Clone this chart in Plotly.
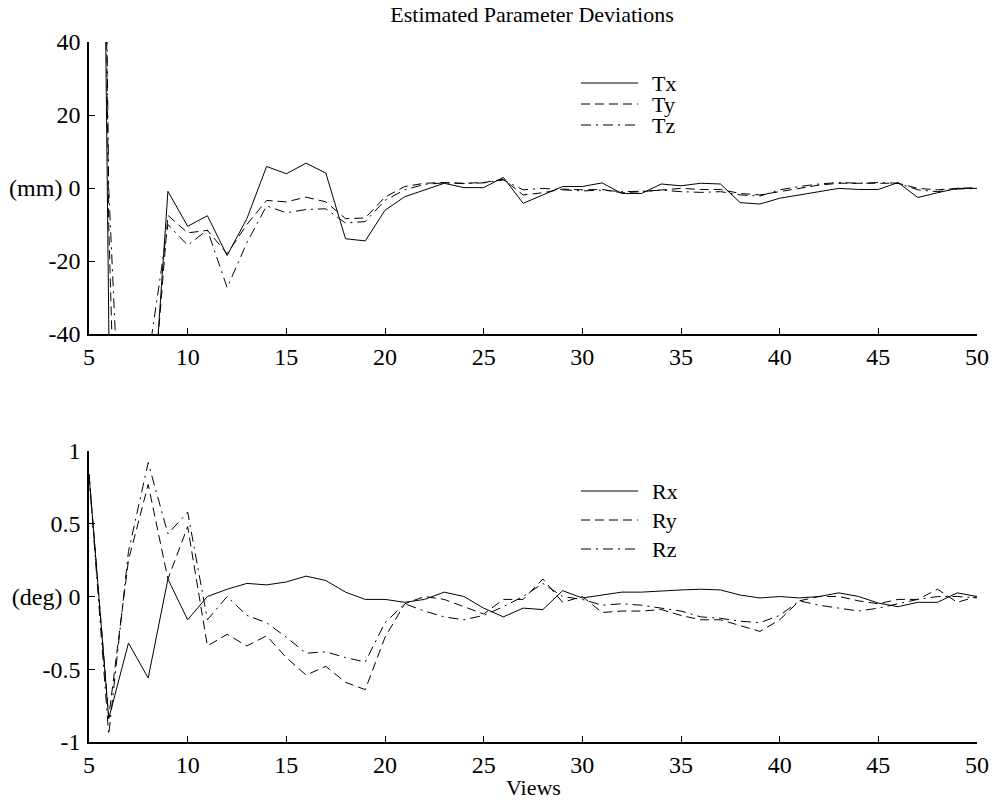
import plotly.graph_objects as go

views = list(range(5, 51))

Tx = [465, -36, -500, -80, -0.9, -10.5, -7.6, -18.5, -8.4, 5.9, 3.9, 6.8, 4.1, -13.9, -14.5, -6.1,
      -2.4, -0.5, 1.3, 0.1, 0.1, 2.9, -4.2, -1.9, 0.4, 0.4, 1.4, -1.5, -1.5, 1.1, 0.6,
      1.3, 1.1, -4.0, -4.4, -2.8, -1.9, -1.0, -0.1, -0.4, -0.4, 1.5, -2.6, -1.3, -0.1, -0.1]
Ty = [470, -10, -200, -75, -7.5, -12.3, -11.6, -18, -10, -3.4, -3.8, -2.5, -3.8, -8.4, -8.2, -2.5,
      0.4, 1.3, 1.5, 1.3, 1.5, 2.4, -1.9, -1.3, -0.3, -0.5, -0.4, -1.3, -1.0, -0.5, -0.1,
      -0.4, -0.4, -1.5, -1.9, -1.0, -0.1, 0.8, 1.3, 1.3, 1.1, 1.3, -0.1, -0.5, -0.1, 0.1]
Tz = [470, 0, -120, -47, -10, -15.7, -11.5, -27.3, -15, -4.9, -6.8, -5.9, -5.7, -9.6, -9.2, -3.4,
      -0.5, 1.0, 1.4, 1.2, 1.4, 2.2, -0.5, -0.1, -0.5, -0.8, -0.6, -1.0, -0.9, -0.6, -1.0,
      -1.2, -1.0, -1.9, -2.2, -0.5, 0.4, 1.1, 1.5, 1.3, 1.5, 1.3, -0.5, -1.0, -0.3, -0.1]

Rx = [0.84, -0.84, -0.32, -0.56, 0.12, -0.16, 0.0, 0.05, 0.09, 0.08, 0.10, 0.14, 0.11, 0.03, -0.02, -0.02,
      -0.04, -0.02, 0.03, 0.0, -0.08, -0.14, -0.08, -0.09, 0.04, -0.01, 0.01, 0.03, 0.03, 0.04, 0.045,
      0.05, 0.045, 0.01, -0.01, 0.0, -0.01, 0.0, 0.025, 0.0, -0.045, -0.07, -0.04, -0.04, 0.025, 0.0]
Ry = [0.84, -0.83, 0.25, 0.77, 0.12, 0.48, -0.34, -0.26, -0.34, -0.27, -0.42, -0.54, -0.48, -0.59, -0.64, -0.28,
      -0.05, 0.0, -0.02, -0.07, -0.12, -0.02, -0.02, 0.12, -0.04, 0.0, -0.11, -0.10, -0.10, -0.09, -0.13,
      -0.16, -0.16, -0.20, -0.24, -0.16, -0.03, 0.0, 0.0, -0.03, -0.05, -0.02, -0.02, 0.05, -0.04, 0.0]
Rz = [0.84, -0.95, 0.31, 0.92, 0.43, 0.58, -0.16, 0.0, -0.13, -0.18, -0.28, -0.39, -0.38, -0.42, -0.45, -0.18,
      -0.05, -0.10, -0.14, -0.16, -0.13, -0.07, 0.0, 0.09, 0.0, -0.02, -0.06, -0.05, -0.06, -0.08, -0.10,
      -0.14, -0.15, -0.17, -0.18, -0.13, -0.03, -0.06, -0.08, -0.10, -0.08, -0.05, -0.02, 0.0, 0.0, -0.01]

top_names = ["Tx", "Ty", "Tz"]
bot_names = ["Rx", "Ry", "Rz"]
x_ticks = [5, 10, 15, 20, 25, 30, 35, 40, 45, 50]
top_ticks = [-40, -20, 0, 20, 40]
top_ticktext = ["-40", "-20", "(mm) 0", "20", "40"]
bot_ticks = [-1, -0.5, 0, 0.5, 1]
bot_ticktext = ["-1", "-0.5", "(deg) 0", "0.5", "1"]

W, H = 992, 800
FONT = "Liberation Serif"
FS = 24
dashes = ["solid", "9px,5px", "10px,5px,2px,5px"]

def px_x(p):
    return p / W

def px_y(p):
    return 1 - p / H

fig = go.Figure()
for name, ys, d in zip(top_names, [Tx, Ty, Tz], dashes):
    fig.add_trace(go.Scatter(x=views, y=ys, mode="lines", name=name,
                             line=dict(color="black", width=1, dash=d),
                             xaxis="x", yaxis="y", showlegend=False))
for name, ys, d in zip(bot_names, [Rx, Ry, Rz], dashes):
    fig.add_trace(go.Scatter(x=views, y=ys, mode="lines", name=name,
                             line=dict(color="black", width=1, dash=d),
                             xaxis="x2", yaxis="y2", showlegend=False))

x0, x1 = px_x(89), px_x(977)
axis_common = dict(showgrid=False, zeroline=False, showline=True, linecolor="black", linewidth=1.5,
                   ticks="inside", ticklen=6, tickwidth=1, tickcolor="black", automargin=False,
                   ticklabeloverflow="allow",
                   tickfont=dict(family=FONT, size=FS, color="black"))
fig.update_layout(
    template="none",
    width=W, height=H, margin=dict(l=0, r=0, t=0, b=0, pad=0, autoexpand=False),
    paper_bgcolor="white", plot_bgcolor="white",
    font=dict(family=FONT, size=FS, color="black"),
    xaxis=dict(domain=[x0, x1], range=[5, 50], tickvals=x_ticks, anchor="y", **axis_common),
    yaxis=dict(domain=[px_y(334), px_y(42)], range=[-40, 40], tickvals=top_ticks,
               ticktext=top_ticktext, anchor="x", ticklabelstandoff=2, **axis_common),
    xaxis2=dict(domain=[x0, x1], range=[5, 50], tickvals=x_ticks, anchor="y2", **axis_common),
    yaxis2=dict(domain=[px_y(742), px_y(451)], range=[-1, 1], tickvals=bot_ticks,
                ticktext=bot_ticktext, anchor="x2", ticklabelstandoff=2, **axis_common),
    title=dict(text="Estimated Parameter Deviations", x=px_x(532), xanchor="center",
               y=px_y(14), yanchor="middle", font=dict(family=FONT, size=22), automargin=False),
)

fig.add_annotation(xref="paper", yref="paper", x=px_x(533), y=px_y(787), text="Views",
                   showarrow=False, xanchor="center", yanchor="middle",
                   font=dict(family=FONT, size=22))

# manual legends
def add_legend(names, rows_px):
    for name, ypx, d in zip(names, rows_px, dashes):
        yp = px_y(ypx)
        fig.add_shape(type="line", xref="paper", yref="paper", x0=px_x(581), x1=px_x(638),
                      y0=yp, y1=yp, line=dict(color="black", width=1, dash=d))
        fig.add_annotation(xref="paper", yref="paper", x=px_x(650), y=yp, text=name, showarrow=False,
                           xanchor="left", yanchor="middle", font=dict(family=FONT, size=22))

add_legend(top_names, [83, 104, 125])
add_legend(bot_names, [491, 520, 549])

fig.write_html("out.html", config={"displayModeBar": False},
               post_script="document.body.style.margin='0';document.body.style.overflow='hidden';")
